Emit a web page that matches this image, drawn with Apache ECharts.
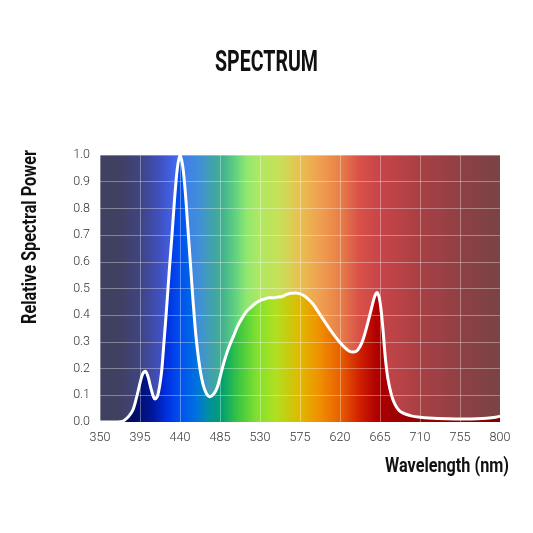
<!DOCTYPE html>
<html>
<head>
<meta charset="utf-8">
<script src="https://cdn.jsdelivr.net/npm/echarts@6/dist/echarts.min.js"></script>
<style>
html,body{margin:0;padding:0;background:#fff;}
#chart{width:533px;height:533px;}
</style>
</head>
<body>
<div id="chart"></div>
<script>
// ---- data ----
const wavelengths = [350,360,370,375,378,382,387,391,395,398,401,404,407,410,412,415,419,422,425,428,431,434,437,440,443,446,449,452,455,458,462,466,470,474,478,482,486,490,495,500,505,510,515,520,525,530,535,540,545,550,555,560,565,570,575,580,585,590,595,600,605,610,615,620,625,630,635,640,645,650,655,659,662,665,668,671,674,678,682,686,690,695,700,710,720,740,760,775,785,795,800];
const power = [0,0,0,0.002,0.008,0.02,0.045,0.09,0.146,0.18,0.19,0.17,0.13,0.095,0.086,0.1,0.18,0.3,0.43,0.57,0.7,0.84,0.95,1.0,0.96,0.86,0.72,0.58,0.44,0.32,0.21,0.14,0.105,0.095,0.105,0.13,0.18,0.23,0.28,0.32,0.36,0.39,0.415,0.43,0.445,0.455,0.46,0.465,0.465,0.468,0.47,0.478,0.482,0.483,0.48,0.472,0.458,0.44,0.415,0.39,0.365,0.34,0.318,0.298,0.28,0.266,0.262,0.27,0.3,0.355,0.42,0.47,0.485,0.45,0.36,0.24,0.16,0.1,0.065,0.045,0.035,0.028,0.023,0.018,0.015,0.012,0.011,0.012,0.014,0.018,0.022];
const xTicks = [350,395,440,485,530,575,620,665,710,755,800];
const titleText = 'SPECTRUM';
const xName = 'Wavelength (nm)';
const yName = 'Relative Spectral Power';

// colour stops (wavelength, colour)
const bgStops = [[350,'#404060'],[372,'#404062'],[395,'#3e4480'],[417,'#4050c0'],[432,'#4262e8'],[447,'#4080e8'],[462,'#4090d8'],[474,'#40a0b0'],[487,'#40b090'],[502,'#60d080'],[515,'#90e870'],[530,'#b0e860'],[552,'#c8e058'],[575,'#e8c050'],[597,'#f0a050'],[620,'#e88048'],[642,'#d85048'],[665,'#c84448'],[710,'#a84044'],[755,'#904044'],[800,'#784444']];
const fillStops = [[350,'#000850'],[380,'#000a60'],[395,'#001070'],[410,'#0018a0'],[425,'#0030e0'],[440,'#0050f0'],[458,'#0070e0'],[472,'#0090a0'],[487,'#00a070'],[507,'#40c840'],[526,'#80e030'],[548,'#b0e020'],[575,'#e0b800'],[597,'#f09000'],[620,'#e86000'],[642,'#d02000'],[661,'#b00000'],[680,'#a00000'],[800,'#800000']];

const X0 = 350, X1 = 800;
function grad(stops){
  return new echarts.graphic.LinearGradient(0,0,1,0, stops.map(s=>({offset:(s[0]-X0)/(X1-X0), color:s[1]})));
}
function fitScale(text, font, target){
  const c = document.createElement('canvas').getContext('2d');
  c.font = font;
  return target / c.measureText(text).width;
}

const spectrum = wavelengths.map((w,i)=>[w,power[i]]);
const labelFont = "Roboto, sans-serif";

const chart = echarts.init(document.getElementById('chart'), null, {renderer:'canvas'});
const titleFont = 'bold 29px Roboto';
const nameFont = 'bold 20px Roboto';
chart.setOption({
  animation:false,
  grid:{left:100,right:33,top:155,bottom:111},
  xAxis:{type:'value',min:350,max:800,interval:45,z:3,
    axisLine:{show:false},axisTick:{show:false},
    axisLabel:{margin:9,color:'#333',fontSize:12.5,fontWeight:300,fontFamily:labelFont},
    splitLine:{show:true,lineStyle:{color:'rgba(255,255,255,0.35)',width:1}}},
  yAxis:{type:'value',min:0,max:1,interval:0.1,z:3,
    axisLine:{show:false},axisTick:{show:false},
    axisLabel:{margin:10,color:'#333',fontSize:12.5,fontWeight:300,fontFamily:labelFont,formatter:v=>v.toFixed(1)},
    splitLine:{show:true,lineStyle:{color:'rgba(255,255,255,0.35)',width:1}}},
  graphic:[
    {type:'text',x:266.5,y:64,scaleX:fitScale(titleText,titleFont,103),z:10,
     style:{text:titleText,font:titleFont,fill:'#111',align:'center',verticalAlign:'middle'}},
    {type:'text',x:31,y:237,rotation:Math.PI/2,scaleX:fitScale(yName,nameFont,174),z:10,
     style:{text:yName,font:nameFont,fill:'#111',align:'center',verticalAlign:'middle'}},
    {type:'text',x:509,y:467,scaleX:fitScale(xName,nameFont,124),z:10,
     style:{text:xName,font:nameFont,fill:'#111',align:'right',verticalAlign:'middle'}}
  ],
  series:[
    {type:'line',data:[[350,1],[800,1]],symbol:'none',z:1,silent:true,
     lineStyle:{width:0,opacity:0},areaStyle:{color:grad(bgStops),opacity:1}},
    {type:'line',data:spectrum,symbol:'none',smooth:0.3,z:2,silent:true,
     lineStyle:{width:0,opacity:0},areaStyle:{color:grad(fillStops),opacity:1}},
    {type:'line',data:spectrum,symbol:'none',smooth:0.3,z:4,silent:true,
     lineStyle:{width:3,color:'#ffffff'}}
  ]
});
</script>
</body>
</html>
